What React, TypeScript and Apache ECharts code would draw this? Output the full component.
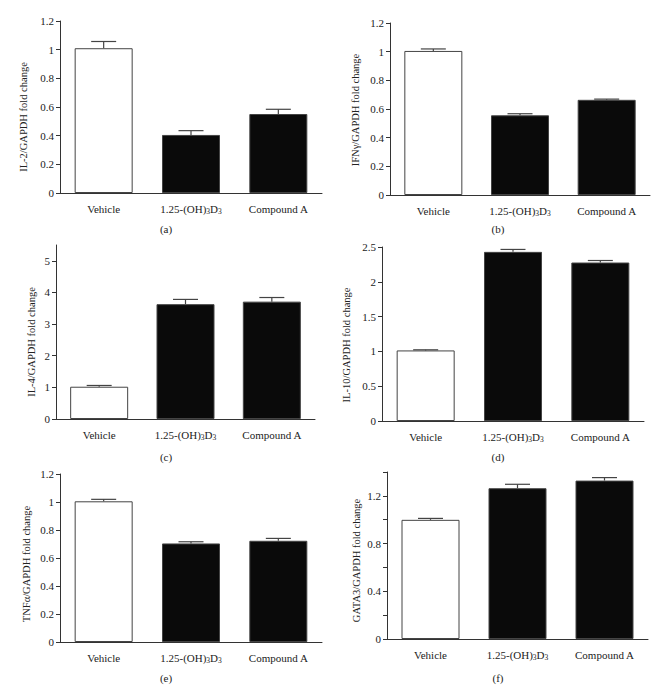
import React, { useEffect, useRef } from "react";
import * as echarts from "echarts";

const categories = ["Vehicle", "1.25-(OH)3D3", "Compound A"];

const il2Mean = [1.01, 0.405, 0.551];
const il2Sem = [0.047, 0.03, 0.033];
const ifngMean = [1.005, 0.556, 0.664];
const ifngSem = [0.014, 0.011, 0.005];
const il4Mean = [1.02, 3.63, 3.71];
const il4Sem = [0.04, 0.15, 0.13];
const il10Mean = [1.014, 2.43, 2.277];
const il10Sem = [0.009, 0.035, 0.029];
const tnfaMean = [1.005, 0.704, 0.723];
const tnfaSem = [0.014, 0.012, 0.017];
const gata3Mean = [0.999, 1.264, 1.328];
const gata3Sem = [0.012, 0.033, 0.025];

const panelNames = [
  "IL-2/GAPDH fold change",
  "IFNγ/GAPDH fold change",
  "IL-4/GAPDH fold change",
  "IL-10/GAPDH fold change",
  "TNFα/GAPDH fold change",
  "GATA3/GAPDH fold change",
];
const panelCaptions = ["(a)", "(b)", "(c)", "(d)", "(e)", "(f)"];

const FONT = "Liberation Serif";
const TXT = "#222";

export default function App() {
  const ref = useRef<HTMLDivElement>(null);
  useEffect(() => {
    document.body.style.margin = "0";
    const chart = echarts.init(ref.current!, null, { renderer: "svg" });

    const means = [il2Mean, ifngMean, il4Mean, il10Mean, tnfaMean, gata3Mean];
    const sems = [il2Sem, ifngSem, il4Sem, il10Sem, tnfaSem, gata3Sem];

    const grids = [
      { left: 60, top: 21, width: 262, height: 172 },
      { left: 390, top: 23, width: 260, height: 172 },
      { left: 56, top: 245, width: 259, height: 174 },
      { left: 382, top: 247, width: 262, height: 174 },
      { left: 60, top: 474, width: 262, height: 168 },
      { left: 387, top: 472, width: 261, height: 167 },
    ];
    const yCfg = [
      { max: 1.2, interval: 0.2 },
      { max: 1.2, interval: 0.2 },
      { max: 5.5, interval: 1, labels: [0, 1, 2, 3, 4, 5] },
      { max: 2.5, interval: 0.5 },
      { max: 1.2, interval: 0.2 },
      { max: 1.4, interval: 0.2, labels: [0, 0.4, 0.8, 1.2] },
    ];
    const nameGaps = [31, 29, 19, 30, 28, 25];
    const namePad = [[0, 20, 0, 0], [0, 2, 0, 0], [0, 20, 0, 0], [0, 22, 0, 0], [0, 12, 0, 0], [0, 10, 0, 0]];

    const xAxes = grids.map((_, i) => ({
      type: "category",
      gridIndex: i,
      data: categories,
      axisLine: { lineStyle: { color: "#333", width: 1 } },
      axisTick: { alignWithLabel: true, length: 4, lineStyle: { color: "#333" } },
      axisLabel: {
        margin: 10,
        color: TXT,
        fontFamily: FONT,
        fontSize: 11,
        interval: 0,
        formatter: (v: string) =>
          v === "1.25-(OH)3D3" ? "1.25-(OH){sub|3}D{sub|3}" : v,
        rich: {
          sub: { fontSize: 7.5, fontFamily: FONT, color: TXT, verticalAlign: "bottom", padding: [4, 0, 0, 0] },
        },
      },
    }));

    const yAxes = grids.map((_, i) => {
      const c = yCfg[i];
      const ax: any = {
        type: "value",
        gridIndex: i,
        min: 0,
        max: c.max,
        interval: c.interval,
        name: panelNames[i],
        nameLocation: "middle",
        nameGap: nameGaps[i],
        nameTextStyle: { color: TXT, fontFamily: FONT, fontSize: 10.5, padding: namePad[i] },
        splitLine: { show: false },
        axisLine: { show: true, lineStyle: { color: "#333", width: 1 } },
        axisTick: { show: true, length: 4, lineStyle: { color: "#333" } },
        axisLabel: { color: TXT, fontFamily: FONT, fontSize: 11, margin: 6 },
      };
      if (c.labels) {
        ax.axisLabel.customValues = c.labels;
        if (i === 2) ax.axisTick.customValues = c.labels;
      }
      return ax;
    });

    const series: any[] = [];
    means.forEach((m, i) => {
      series.push({
        type: "bar",
        xAxisIndex: i,
        yAxisIndex: i,
        barWidth: 58,
        z: 2,
        data: m.map((v, k) => ({
          value: v,
          itemStyle:
            k === 0
              ? { color: "#ffffff", borderColor: "#444", borderWidth: 1 }
              : { color: "#0a0a0a", borderColor: "#444", borderWidth: 1 },
        })),
      });
      series.push({
        type: "custom",
        xAxisIndex: i,
        yAxisIndex: i,
        z: 3,
        data: m.map((v, k) => [k, v, v + sems[i][k]]),
        renderItem: (params: any, api: any) => {
          const x = api.value(0);
          const p0 = api.coord([x, api.value(1)]);
          const p1 = api.coord([x, api.value(2)]);
          const half = 12.5;
          const st = { stroke: "#444", lineWidth: 1.2 };
          return {
            type: "group",
            children: [
              { type: "line", shape: { x1: p0[0], y1: p0[1], x2: p1[0], y2: p1[1] }, style: st },
              { type: "line", shape: { x1: p1[0] - half, y1: p1[1], x2: p1[0] + half, y2: p1[1] }, style: st },
            ],
          };
        },
      });
    });

    const capPos = [
      [166, 229],
      [498, 229],
      [166, 457],
      [498, 457],
      [166, 678],
      [498, 678],
    ];
    const graphic = panelCaptions.map((t, i) => ({
      type: "text",
      x: capPos[i][0],
      y: capPos[i][1],
      style: { text: t, fill: TXT, font: `11px "${FONT}"`, align: "center", verticalAlign: "middle" },
    }));

    chart.setOption({
      animation: false,
      backgroundColor: "#ffffff",
      grid: grids,
      xAxis: xAxes,
      yAxis: yAxes,
      series,
      graphic,
    });
    return () => chart.dispose();
  }, []);
  return <div ref={ref} style={{ width: 664, height: 693 }} />;
}
